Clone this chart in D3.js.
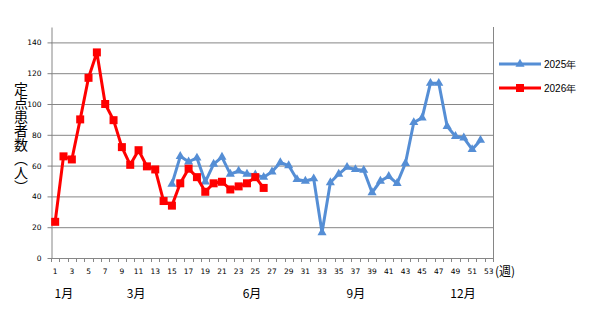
<!DOCTYPE html>
<html>
<head>
<meta charset="utf-8">
<script src="https://cdn.jsdelivr.net/npm/d3@7"></script>
<style>
  html, body { margin: 0; padding: 0; background: #fff; }
  svg { display: block; }
</style>
</head>
<body>
<svg id="chart" width="605" height="312"></svg>
<script>
// ---- data ----
const weeks = d3.range(1, 54);
const tickWeeks = d3.range(1, 54, 2);
const yTicks = [0, 20, 40, 60, 80, 100, 120, 140];
const seriesNames = ["2025年", "2026年"];
const weeks2025 = d3.range(15, 53);
const values2025 = [48, 66, 62.5, 65, 49.5, 61, 65.5, 54.5, 56.5, 54.5, 54, 52.5, 56, 62, 60, 51, 50, 51.5,
  16.5, 49, 54.5, 59, 57.5, 57, 42.5, 50, 53, 48.5, 61.5, 88, 91, 113.5, 113.5, 85.5, 79, 78, 70.5, 76.5];
const weeks2026 = d3.range(1, 27);
const values2026 = [23.5, 66, 64, 90, 117, 133.5, 100, 89.5, 72, 60.5, 70, 59.5, 57.5, 37, 34, 48.5,
  58, 52.5, 43, 48.5, 49.5, 44.5, 46.5, 48.5, 52.5, 45.5];
const monthLabels = ["1月", "3月", "6月", "9月", "12月"];
const monthWeeks = [2.05, 10.7, 24.6, 37.05, 49.9];
const yTitle = "定点患者数（人）";
const xUnit = "(週)";

// ---- layout ----
const svg = d3.select("#chart");
const L = 51, R = 493, T = 27, B = 258;
const x = d3.scaleLinear().domain([0.5, 53.5]).range([L, R]);
const y = d3.scaleLinear().domain([0, 150]).range([B, T]);
const gridColor = "#868686";
const blue = "#558ED5", red = "#FF0000";
const tickFont = "'DejaVu Sans', Verdana, sans-serif";
const cjkFont = "'Noto Sans CJK JP', sans-serif";

// gridlines
svg.append("g")
  .attr("transform", `translate(${L},0)`)
  .call(d3.axisLeft(y).tickValues(yTicks.slice(1)).tickSize(-(R - L)).tickFormat(""))
  .call(g => g.select(".domain").remove())
  .call(g => g.selectAll("line").attr("stroke", gridColor).attr("stroke-width", 1));

// right border
svg.append("line").attr("x1", R + 0.5).attr("x2", R + 0.5).attr("y1", T).attr("y2", B)
  .attr("stroke", gridColor);

// y axis
svg.append("g")
  .attr("transform", `translate(${L + 0.5},0)`)
  .call(d3.axisLeft(y).tickValues(yTicks).tickSize(4).tickSizeOuter(0).tickPadding(6))
  .call(g => g.select(".domain").attr("stroke", gridColor))
  .call(g => g.selectAll("line").attr("stroke", gridColor))
  .call(g => g.selectAll("text").attr("font-family", tickFont).attr("font-size", 7.5).attr("fill", "#000"));

// x axis line
svg.append("line").attr("x1", L).attr("x2", R + 1).attr("y1", B + 0.5).attr("y2", B + 0.5)
  .attr("stroke", gridColor);
// x tick marks between categories
svg.append("g").selectAll("line")
  .data(d3.range(0, 54))
  .join("line")
  .attr("x1", d => Math.round(x(d + 0.5)) + 0.5)
  .attr("x2", d => Math.round(x(d + 0.5)) + 0.5)
  .attr("y1", B).attr("y2", B + 4)
  .attr("stroke", gridColor);
// x tick labels
svg.append("g").selectAll("text")
  .data(tickWeeks)
  .join("text")
  .attr("x", d => x(d))
  .attr("y", 274)
  .attr("text-anchor", "middle")
  .attr("font-family", tickFont).attr("font-size", 7.5)
  .text(d => d);
svg.append("text")
  .attr("x", R + 2).attr("y", 276)
  .attr("font-family", cjkFont).attr("font-size", 12)
  .text(xUnit);

// month labels
svg.append("g").selectAll("text")
  .data(monthLabels)
  .join("text")
  .attr("x", (d, i) => x(monthWeeks[i]))
  .attr("y", 298)
  .attr("text-anchor", "middle")
  .attr("font-family", cjkFont).attr("font-size", 12)
  .text(d => d);

// y title
svg.append("text")
  .attr("x", 21).attr("y", 82)
  .attr("writing-mode", "vertical-rl")
  .attr("font-family", cjkFont).attr("font-size", 14)
  .text(yTitle);

// series
const line = d3.line().x(d => x(d[0])).y(d => y(d[1]));
const data2025 = weeks2025.map((w, i) => [w, values2025[i]]);
const data2026 = weeks2026.map((w, i) => [w, values2026[i]]);
const tri = d3.symbol().type(d3.symbolTriangle).size(36);

const g25 = svg.append("g");
g25.append("path").datum(data2025).attr("d", line)
  .attr("fill", "none").attr("stroke", blue).attr("stroke-width", 3).attr("stroke-linejoin", "round");
g25.selectAll("path.m").data(data2025).join("path").attr("class", "m")
  .attr("d", tri).attr("transform", d => `translate(${x(d[0])},${y(d[1])})`)
  .attr("fill", blue);

const g26 = svg.append("g");
g26.append("path").datum(data2026).attr("d", line)
  .attr("fill", "none").attr("stroke", red).attr("stroke-width", 3).attr("stroke-linejoin", "round");
g26.selectAll("rect").data(data2026).join("rect")
  .attr("x", d => x(d[0]) - 4).attr("y", d => y(d[1]) - 4)
  .attr("width", 8).attr("height", 8).attr("fill", red);

// legend
const legY = [64, 88];
const legColors = [blue, red];
const leg = svg.append("g").selectAll("g").data(seriesNames).join("g")
  .attr("transform", (d, i) => `translate(0,${legY[i]})`);
leg.append("line").attr("x1", 499).attr("x2", 541).attr("y1", 0).attr("y2", 0)
  .attr("stroke", (d, i) => legColors[i]).attr("stroke-width", 3);
leg.each(function (d, i) {
  const s = d3.select(this);
  if (i === 0) {
    s.append("path").attr("d", tri).attr("transform", "translate(520,0)").attr("fill", blue);
  } else {
    s.append("rect").attr("x", 516).attr("y", -4).attr("width", 8).attr("height", 8).attr("fill", red);
  }
});
leg.append("text").attr("x", 544).attr("y", 4)
  .attr("font-family", "'Liberation Sans', Arial, sans-serif").attr("font-size", 10)
  .text(d => d);
</script>
</body>
</html>
